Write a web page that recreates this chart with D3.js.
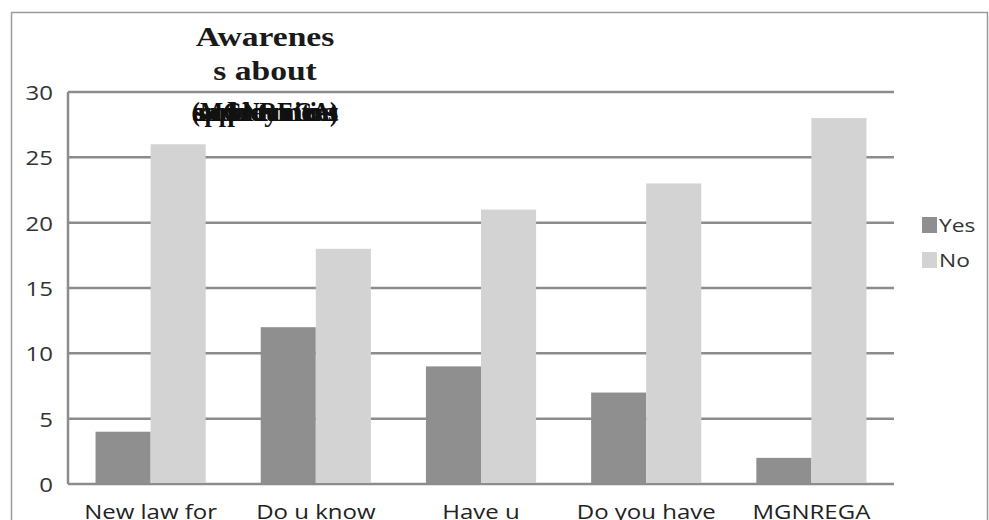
<!DOCTYPE html>
<html>
<head>
<meta charset="utf-8">
<script src="https://cdn.jsdelivr.net/npm/d3@7"></script>
<style>
  body { margin: 0; background: #fff; }
  svg { display: block; }
</style>
</head>
<body>
<svg id="chart"></svg>
<script>
// data
const categories = ['New law for', 'Do u know', 'Have u', 'Do you have', 'MGNREGA'];
const seriesNames = ['Yes', 'No'];
const yesValues = [4, 12, 9, 7, 2];
const noValues = [26, 18, 21, 23, 28];
const yTicks = [0, 5, 10, 15, 20, 25, 30];
const titleLines = ['Awarenes', 's about'];
const titleOverlap = ['employment', '(MGNREGA)', 'opportunities', 'schemes'];

const W = 989, H = 520;
const margin = {top: 92, right: 95, bottom: 36, left: 68};
const colors = {Yes: '#8f8f8f', No: '#d3d3d3'};
const stretch = 1.2; // the picture is stretched a little sideways

const svg = d3.select('#chart').attr('width', W).attr('height', H);

// outer frame
svg.append('path')
    .attr('d', `M11.5,${H} V12.5 H987.5 V${H}`)
    .attr('fill', 'none')
    .attr('stroke', '#9a9a9a')
    .attr('stroke-width', 1.5);

const x0 = d3.scaleBand()
    .domain(categories)
    .range([margin.left, W - margin.right])
    .padding(0);

const x1 = d3.scaleBand()
    .domain(seriesNames)
    .range([0, x0.bandwidth()])
    .paddingInner(0)
    .paddingOuter(0.5);

const y = d3.scaleLinear()
    .domain([0, 30])
    .range([H - margin.bottom, margin.top]);

// stretched text helper
function sText(g, x, yPos, str, opts) {
  const t = g.append('g')
      .attr('transform', `translate(${x},${yPos}) scale(${stretch},1)`)
      .append('text')
      .attr('text-anchor', opts.anchor || 'middle')
      .attr('font-family', opts.family || "'Open Sans', sans-serif")
      .attr('font-size', opts.size)
      .attr('font-weight', opts.weight || 'normal')
      .attr('fill', opts.fill || '#222')
      .text(str);
  return t;
}

// gridlines
svg.append('g')
  .selectAll('line')
  .data(yTicks)
  .join('line')
    .attr('x1', margin.left)
    .attr('x2', W - margin.right)
    .attr('y1', d => y(d))
    .attr('y2', d => y(d))
    .attr('stroke', '#8c8c8c')
    .attr('stroke-width', 2.5);

// left axis line
svg.append('line')
    .attr('x1', margin.left).attr('x2', margin.left)
    .attr('y1', y(30)).attr('y2', y(0))
    .attr('stroke', '#8c8c8c')
    .attr('stroke-width', 2.5);

// bars
const rows = categories.map((c, i) => ({cat: c, Yes: yesValues[i], No: noValues[i]}));
svg.append('g')
  .selectAll('g')
  .data(rows)
  .join('g')
    .attr('transform', d => `translate(${x0(d.cat)},0)`)
  .selectAll('rect')
  .data(d => seriesNames.map(s => ({s, v: d[s]})))
  .join('rect')
    .attr('x', d => x1(d.s))
    .attr('width', x1.bandwidth())
    .attr('y', d => y(d.v))
    .attr('height', d => y(0) - y(d.v) - 1)
    .attr('fill', d => colors[d.s]);

// y tick labels
const yLab = svg.append('g');
yTicks.forEach(t => {
  sText(yLab, 53, y(t) + 8, String(t), {size: 20, anchor: 'end', fill: '#333'});
});

// x category labels (running off the bottom edge as in the picture)
const xLab = svg.append('g');
categories.forEach(c => {
  sText(xLab, x0(c) + x0.bandwidth() / 2, 519, c, {size: 20, fill: '#222'});
});

// title
const tg = svg.append('g');
const titleX = 265;
titleLines.forEach((line, i) => {
  sText(tg, titleX, 46 + i * 34, line, {
    size: 28, weight: 'bold', family: "'Liberation Serif', 'Times New Roman', serif", fill: '#1a1a1a'
  });
});
titleOverlap.forEach(w => {
  sText(tg, titleX, 121, w, {
    size: 28, weight: 'bold', family: "'Liberation Serif', 'Times New Roman', serif", fill: '#111'
  })
    .attr('textLength', 122)
    .attr('lengthAdjust', 'spacingAndGlyphs');
});

// legend
const leg = svg.append('g');
seriesNames.forEach((s, i) => {
  const ly = 217 + i * 35;
  leg.append('rect')
      .attr('x', 922).attr('y', ly)
      .attr('width', 15).attr('height', 16)
      .attr('fill', colors[s]);
  sText(leg, 939, ly + 15, s, {size: 19, anchor: 'start', fill: '#333'});
});
</script>
</body>
</html>
